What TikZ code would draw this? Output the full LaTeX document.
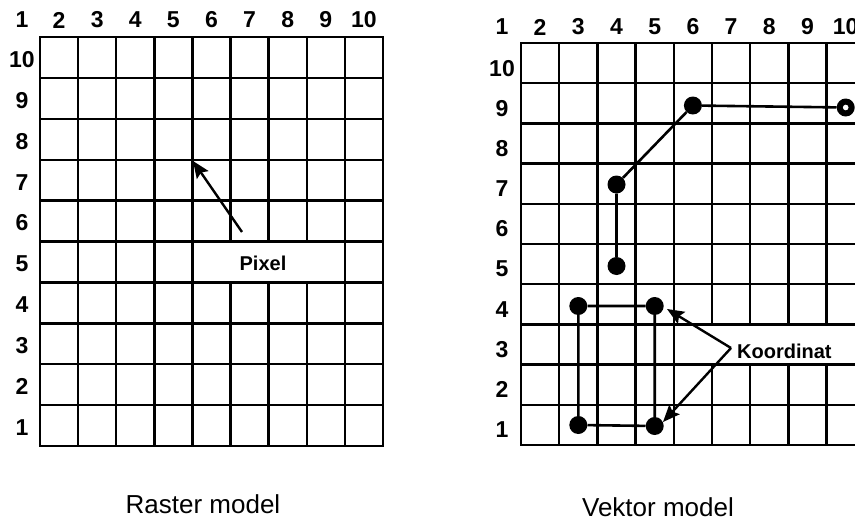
\documentclass[tikz,border=0pt]{standalone}
\usepackage{fontspec}
\setmainfont{Liberation Sans}
\usetikzlibrary{arrows.meta}
\begin{document}
\begin{tikzpicture}[x=1pt,y=-1pt,
  gridline/.style={line width=2.4pt, line cap=rect},
  numlab/.style={font=\fontsize{23}{25}\selectfont\bfseries, inner sep=0pt},
  titlelab/.style={font=\fontsize{26}{28}\selectfont, inner sep=0pt},
  callout/.style={font=\fontsize{20}{22}\selectfont\bfseries, inner sep=0pt},
  dot/.style={circle, fill=black, inner sep=0pt, minimum size=18pt},
  vec/.style={line width=2.6pt},
  pointer/.style={line width=2.4pt, -{Stealth[length=17pt,width=14pt,inset=3pt]}}]
\useasboundingbox (0,0) rectangle (855,522);
\clip (0,0) rectangle (855,522);
\fill[white] (0,0) rectangle (855,522);

% ---------- Raster model ----------
\foreach \i in {0,...,9} \draw[gridline] ({40+\i*38.11},37) -- ({40+\i*38.11},446);
\foreach \j in {0,...,10} \draw[gridline] (40,{37+\j*40.9}) -- (383,{37+\j*40.9});
\fill[white] (193.7,242.8) rectangle (343.6,281.1);
\node[callout] (pixel) at (263,263.5) {Pixel};
\coordinate (pxs) at (242,232);
\coordinate (pxt) at (193,161);
\draw[pointer] (pxs) -- (pxt);

\node[numlab] (L1) at (22,20) {1};
\foreach \k in {2,...,10} \node[numlab] (Lc\k) at ({40+(\k-1.5)*38.11},20) {\k};
\foreach \r in {1,...,10} \node[numlab] (Lr\r) at (22,{37+(10.5-\r)*40.9+2}) {\r};

\node[titlelab] (rt) at (203,504) {Raster model};

% ---------- Vektor model ----------
\foreach \i in {0,...,9} \draw[gridline] ({521+\i*38.2},43) -- ({521+\i*38.2},445);
\foreach \j in {0,...,10} \draw[gridline] (521,{43+\j*40.2}) -- (870,{43+\j*40.2});
\fill[white] (709.5,325.7) rectangle (870,363.3);

\node[numlab] (R1) at (502,27) {1};
\foreach \k in {2,...,10} \node[numlab] (Rc\k) at ({521+(\k-1.5)*38.2},27) {\k};
\foreach \r in {1,...,10} \node[numlab] (Rr\r) at (502,{43+(10.5-\r)*40.2+5}) {\r};

\node[dot] (p45) at (616.5,266) {};
\node[dot] (p47) at (616.5,184.5) {};
\node[dot] (p69) at (692.9,105.5) {};
\node[dot] (p109) at (845.7,107.5) {};
\node[dot] (p34) at (578.3,306) {};
\node[dot] (p54) at (654.7,306) {};
\node[dot] (p31) at (578.3,425) {};
\node[dot] (p51) at (654.7,426) {};
\draw[vec] (p45) -- (p47) -- (p69) -- (p109);
\draw[vec] (p34) -- (p54) -- (p51) -- (p31) -- (p34);
\fill[white] (p109.center) circle (2.8pt);

\node[callout, anchor=west] (koord) at (737,351) {Koordinat};
\coordinate (ks) at (731,348);
\coordinate (kt1) at (667,309);
\coordinate (kt2) at (663,422);
\draw[pointer] (ks) -- (kt1);
\draw[pointer] (ks) -- (kt2);

\node[titlelab] (vt) at (658,507) {Vektor model};
\end{tikzpicture}
\end{document}
